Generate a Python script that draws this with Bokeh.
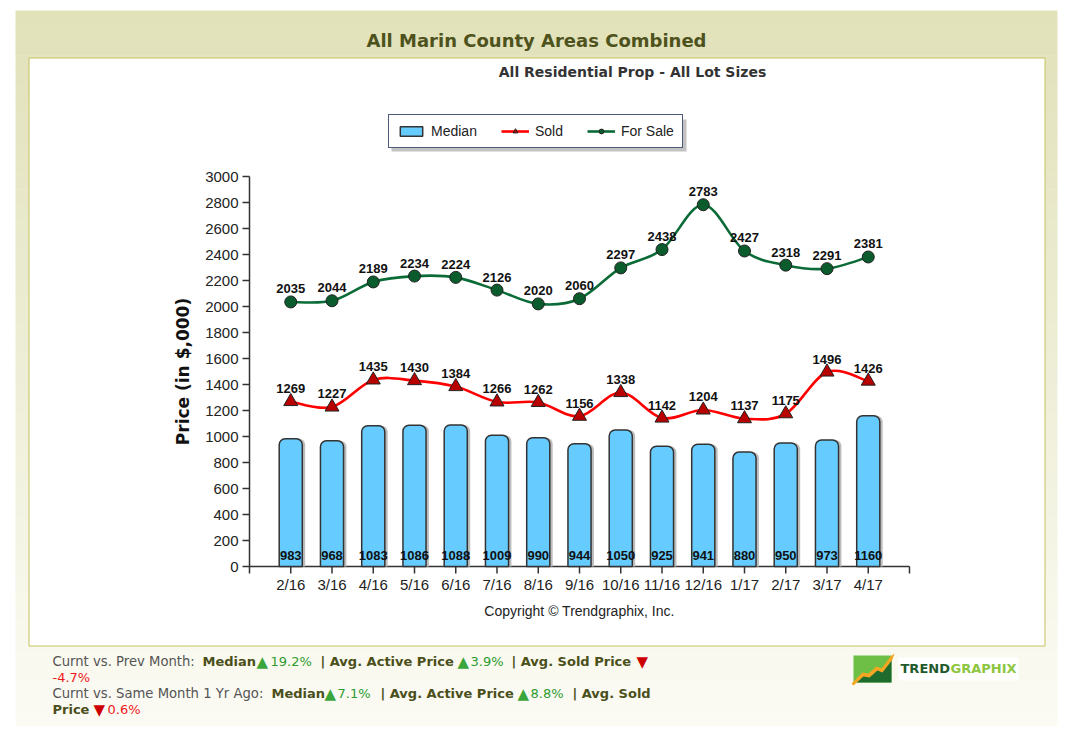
from math import pi
from bokeh.plotting import figure
from bokeh.models import Range1d, Legend, LegendItem, ColumnDataSource
from bokeh.core.properties import value
from bokeh.embed import file_html
from bokeh.resources import INLINE

# ---------------- data ----------------
categories = ["2/16", "3/16", "4/16", "5/16", "6/16", "7/16", "8/16", "9/16",
              "10/16", "11/16", "12/16", "1/17", "2/17", "3/17", "4/17"]
median = [983, 968, 1083, 1086, 1088, 1009, 990, 944, 1050, 925, 941, 880, 950, 973, 1160]
sold = [1269, 1227, 1435, 1430, 1384, 1266, 1262, 1156, 1338, 1142, 1204, 1137, 1175, 1496, 1426]
for_sale = [2035, 2044, 2189, 2234, 2224, 2126, 2020, 2060, 2297, 2438, 2783, 2427, 2318, 2291, 2381]
y_ticks = list(range(0, 3001, 200))

title_text = "All Marin County Areas Combined"
subtitle_text = "All Residential Prop - All Lot Sizes"
y_label = "Price (in $,000)"
copyright_text = "Copyright \u00a9 Trendgraphix, Inc."
series_names = ["Median", "Sold", "For Sale"]

# ---------------- canvas / plot-area geometry (px) ----------------
W, H = 1064, 732
CL, CR, CT, CB = 249, 909, 176, 566      # chart plotting area

n = len(categories)
xs = list(range(1, n + 1))
x_lo, x_hi = 0, n + 1
y_lo, y_hi = y_ticks[0], y_ticks[-1]

# page-pixel coordinate system for decorations (y grows downwards)
p = figure(width=W, height=H, x_range=Range1d(0, W), y_range=Range1d(H, 0),
           min_border=0, output_backend="svg", toolbar_location=None,
           x_axis_location=None, y_axis_location=None)
p.border_fill_color = "white"
p.background_fill_color = "white"
p.outline_line_color = None
p.grid.visible = False

# chart coordinate system mapped onto the plotting area
kx = (CR - CL) / (x_hi - x_lo)
ky = (CB - CT) / (y_hi - y_lo)
cx_start = x_lo - CL / kx
cy_start = y_lo - (H - CB) / ky
p.extra_x_ranges = {"cx": Range1d(cx_start, cx_start + W / kx)}
p.extra_y_ranges = {"cy": Range1d(cy_start, cy_start + H / ky)}
C = dict(x_range_name="cx", y_range_name="cy")

# ---------------- background panel (gradient) ----------------
top_c = (0xE1, 0xE1, 0xBA)
bot_c = (0xFB, 0xFB, 0xF4)
py0, py1, steps = 10, 725, 48
g_top, g_bot, g_col = [], [], []
for i in range(steps):
    t = i / (steps - 1)
    c = tuple(int(round(top_c[k] + (bot_c[k] - top_c[k]) * t)) for k in range(3))
    g_top.append(py0 + (py1 - py0) * i / steps)
    g_bot.append(py0 + (py1 - py0) * (i + 1) / steps + 0.5)
    g_col.append("#%02x%02x%02x" % c)
p.quad(left=15, right=1057, top=g_top, bottom=g_bot, fill_color=g_col, line_color=None)

# inner white box
p.quad(left=28.5, right=1044.5, top=57.5, bottom=645.5, fill_color="white",
       line_color="#C4C25C", line_width=1)


def txt(text, x, y, size, color, font="DejaVu Sans", style="normal", align="left",
        baseline="middle"):
    p.text(x=[x], y=[y], text=[text], text_font=value(font), text_font_size=f"{size}px",
           text_font_style=style, text_color=color, text_align=align,
           text_baseline=baseline)


txt(title_text, 536, 40, 18, "#4E521C", style="bold", align="center")
txt(subtitle_text, 632, 71, 14, "#333333", style="bold", align="center")
txt(copyright_text, 579, 610, 14, "#222222", font="Liberation Sans", align="center")

# ---------------- axes ----------------
AX = "#333333"
p.segment(x0=[x_lo, x_lo], y0=[y_lo, y_lo], x1=[x_hi, x_lo], y1=[y_lo, y_hi],
          line_color=AX, line_width=1.5, **C)
p.ray(x=x_lo, y=y_ticks, length=7, length_units="screen", angle=pi,
      line_color=AX, line_width=1.5, **C)
p.text(x=x_lo, y=y_ticks, text=[str(t) for t in y_ticks], x_offset=-11,
       text_align="right", text_baseline="middle", text_font=value("Liberation Sans"),
       text_font_size="15px", text_color="#222222", **C)
p.ray(x=list(range(x_lo, x_hi + 1)), y=y_lo, length=7, length_units="screen",
      angle=-pi / 2, line_color=AX, line_width=1.5, **C)
p.text(x=xs, y=y_lo, text=categories, y_offset=9, text_align="center",
       text_baseline="top", text_font=value("Liberation Sans"), text_font_size="15px",
       text_color="#222222", **C)
p.text(x=[x_lo], y=[(y_lo + y_hi) / 2], text=[y_label], angle=pi / 2, x_offset=-67,
       text_align="center", text_baseline="middle", text_font=value("DejaVu Sans"),
       text_font_style="bold", text_font_size="17px", text_color="#111111", **C)

# ---------------- bars ----------------
bar_src = ColumnDataSource(dict(x=xs, top=median, lbl=[str(v) for v in median],
                                xs_sh=[x + 0.07 for x in xs]))
p.vbar(x="xs_sh", top="top", bottom=y_lo, width=0.56, source=bar_src,
       fill_color="#BDBDBD", line_color=None, border_radius=(6, 6, 0, 0), **C)
bars = p.vbar(x="x", top="top", bottom=y_lo, width=0.56, source=bar_src,
              fill_color="#66CCFF", line_color="#333333", line_width=1.5,
              border_radius=(6, 6, 0, 0), **C)
p.text(x="x", y=y_lo, text="lbl", source=bar_src, y_offset=-11,
       text_align="center", text_baseline="middle",
       text_font=value("Liberation Sans"), text_font_style="bold",
       text_font_size="13px", text_color="#111111", **C)


# ---------------- smooth lines ----------------
def spline_src(vals):
    d = dict(x0=[], y0=[], x1=[], y1=[], cx0=[], cy0=[], cx1=[], cy1=[])
    m = len(vals)
    for i in range(m - 1):
        im, i2 = max(i - 1, 0), min(i + 2, m - 1)
        d["x0"].append(xs[i]); d["y0"].append(vals[i])
        d["x1"].append(xs[i + 1]); d["y1"].append(vals[i + 1])
        d["cx0"].append(xs[i] + (xs[i + 1] - xs[im]) / 6)
        d["cy0"].append(vals[i] + (vals[i + 1] - vals[im]) / 6)
        d["cx1"].append(xs[i + 1] - (xs[i2] - xs[i]) / 6)
        d["cy1"].append(vals[i + 1] - (vals[i2] - vals[i]) / 6)
    return ColumnDataSource(d)


def series(vals, line_color, marker, fill, size):
    ln = p.bezier(x0="x0", y0="y0", x1="x1", y1="y1", cx0="cx0", cy0="cy0",
                  cx1="cx1", cy1="cy1", source=spline_src(vals),
                  line_color=line_color, line_width=2.6, **C)
    src = ColumnDataSource(dict(x=xs, y=vals, lbl=[str(v) for v in vals]))
    pts = p.scatter(x="x", y="y", source=src, marker=marker, size=size,
                    fill_color=fill, line_color="#222222", line_width=1, **C)
    p.text(x="x", y="y", text="lbl", source=src, y_offset=-13,
           text_align="center", text_baseline="middle",
           text_font=value("Liberation Sans"), text_font_style="bold",
           text_font_size="13px", text_color="#111111", **C)
    return ln, pts


sold_ln, sold_pts = series(sold, "#FF0000", "triangle", "#B80000", 14)
fs_ln, fs_pts = series(for_sale, "#0A6B36", "circle", "#0A5C2C", 12)

# ---------------- legend ----------------
p.quad(left=391, right=686, top=119, bottom=151, fill_color="#9A9A9A",
       fill_alpha=0.6, line_color=None)
legend = Legend(items=[LegendItem(label=series_names[0], renderers=[bars]),
                       LegendItem(label=series_names[1], renderers=[sold_ln, sold_pts]),
                       LegendItem(label=series_names[2], renderers=[fs_ln, fs_pts])],
                orientation="horizontal", location=(388, H - 148),
                border_line_color="#4A5A78", border_line_width=1.5, border_line_alpha=1,
                background_fill_color="white", background_fill_alpha=1,
                label_text_font="Liberation Sans", label_text_font_size="14px",
                label_text_color="#222222", label_height=16,
                padding=8, spacing=24, label_standoff=6, margin=0,
                glyph_width=28, glyph_height=12)
p.add_layout(legend)

# ---------------- footer ----------------
OLIVE = "#4B4F1A"
GRAY = "#555555"
GREEN = "#2E9B2E"
RED = "#F01818"
UP = "#3AA53A"
DOWN = "#CC0000"
runs = [
    ("Curnt vs. Prev Month:", 52, 661, "plain"),
    ("Median", 202, 661, "bold"), ("\u25b2", 256, 661, "up"), ("19.2%", 270, 661, "pos"),
    ("| Avg. Active Price", 320, 661, "bold"), ("\u25b2", 457, 661, "up"), ("3.9%", 470, 661, "pos"),
    ("| Avg. Sold Price", 511, 661, "bold"), ("\u25bc", 636, 661, "down"),
    ("-4.7%", 52, 677, "neg"),
    ("Curnt vs. Same Month 1 Yr Ago:", 52, 693, "plain"),
    ("Median", 271, 693, "bold"), ("\u25b2", 324, 693, "up"), ("7.1%", 337, 693, "pos"),
    ("| Avg. Active Price", 380, 693, "bold"), ("\u25b2", 517, 693, "up"), ("8.8%", 530, 693, "pos"),
    ("| Avg. Sold", 572, 693, "bold"),
    ("Price", 52, 709, "bold"), ("\u25bc", 93, 709, "down"), ("0.6%", 107, 709, "neg"),
]
styles = {"plain": (GRAY, "normal", 13.2), "bold": (OLIVE, "bold", 13),
          "up": (UP, "normal", 15), "down": (DOWN, "normal", 15),
          "pos": (GREEN, "normal", 13), "neg": (RED, "normal", 13)}
for text, x, y, kind in runs:
    col, st, sz = styles[kind]
    txt(text, x, y, sz, col, style=st)

# ---------------- logo ----------------
p.quad(left=853, right=891, top=655, bottom=682, fill_color="#6DBF45", line_color=None)
p.patch(x=[853, 862, 868, 876, 881, 891, 891, 853],
        y=[682, 674, 675, 668, 670, 657, 682, 682], fill_color="#1E6B2E", line_color=None)
p.patch(x=[851, 862, 868, 876, 881, 890, 894, 892, 882, 877, 869, 863, 853],
        y=[683, 672, 673, 666, 668, 656, 653, 659, 672, 670, 677, 676, 685],
        fill_color="#F5A623", line_color=None)
p.quad(left=898, right=1018, top=657, bottom=680, fill_color="white", line_color=None)
txt("TREND", 900, 668, 13, "#1F5A2C", style="bold")
txt("GRAPHIX", 950, 668, 13, "#8DC63F", style="bold")

open("out.html", "w").write(file_html(p, INLINE))
